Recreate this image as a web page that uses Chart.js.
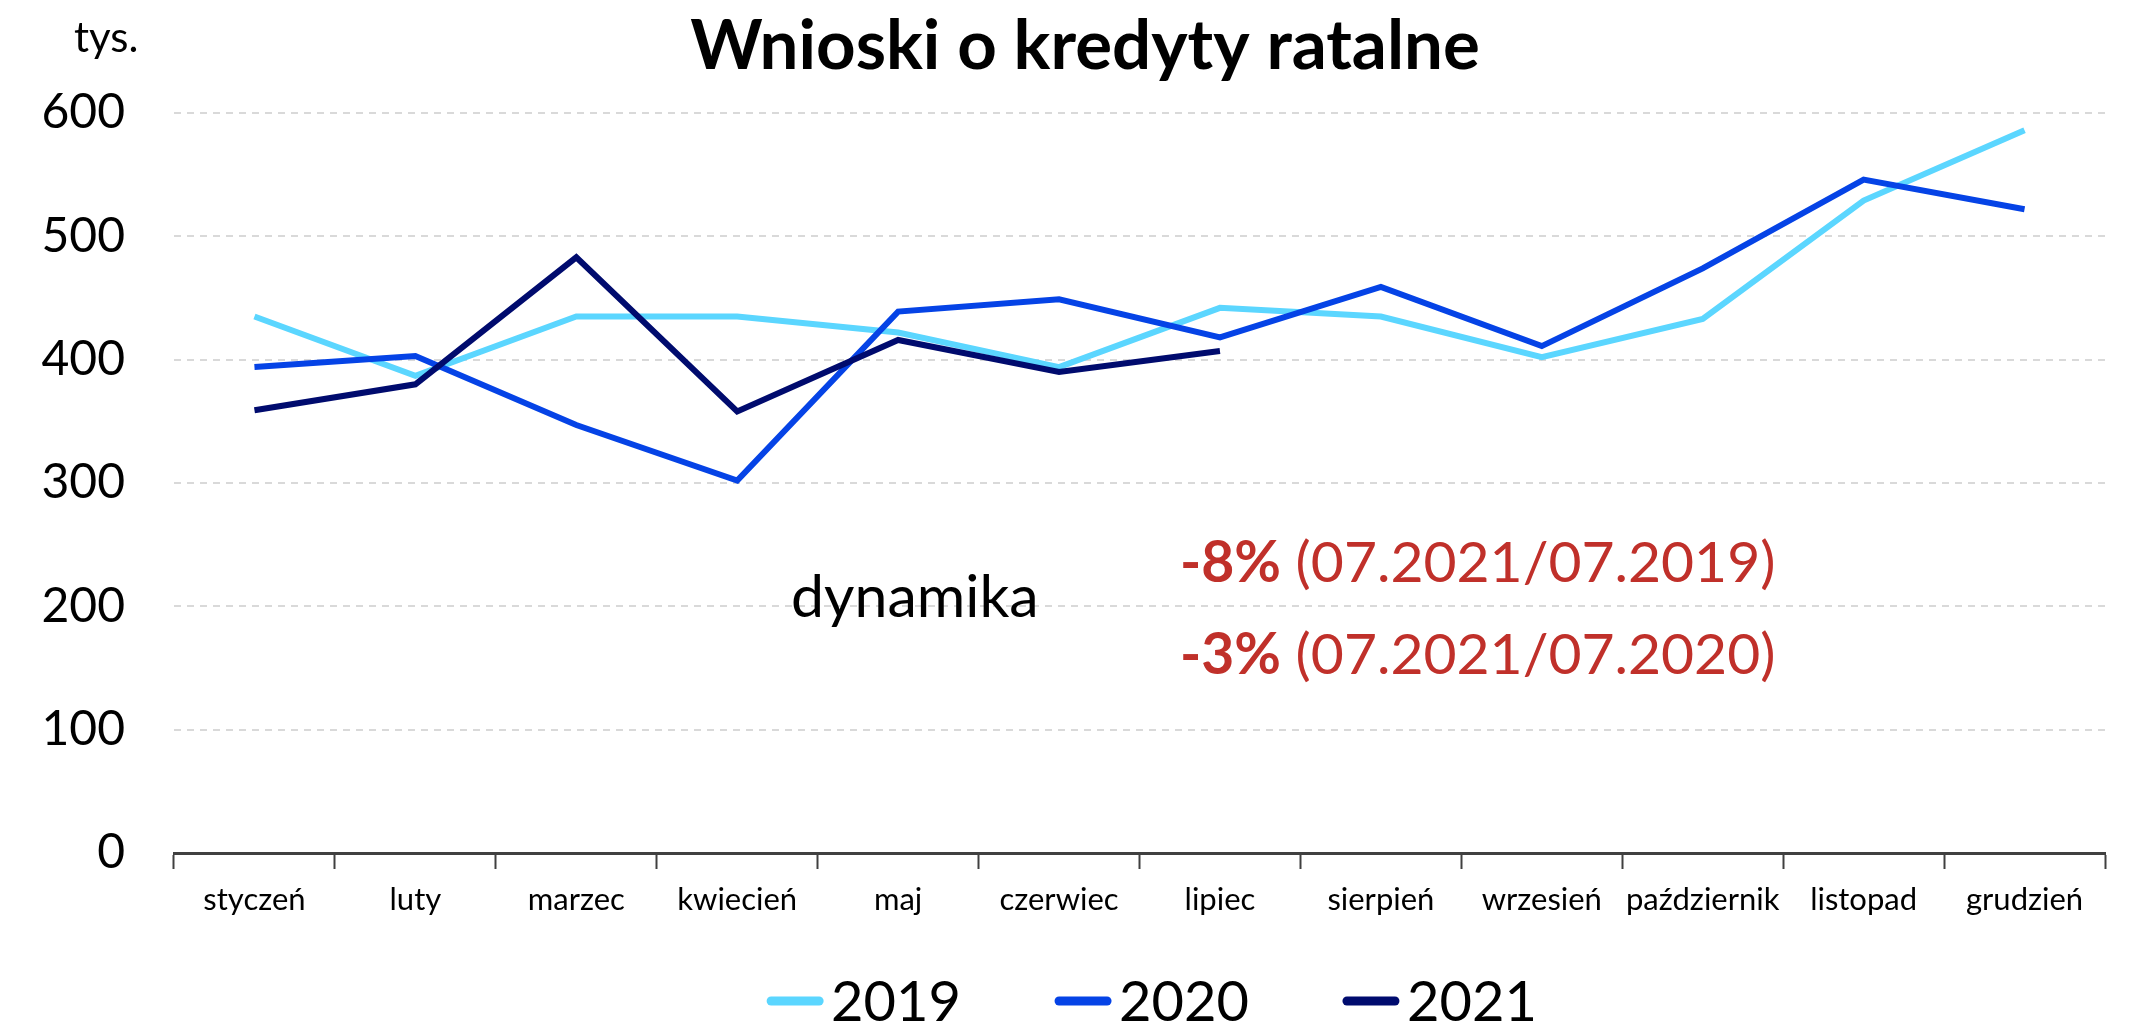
<!DOCTYPE html>
<html lang="pl">
<head>
<meta charset="utf-8">
<title>Wnioski o kredyty ratalne</title>
<script src="https://cdn.jsdelivr.net/npm/chart.js@4.4.1/dist/chart.umd.min.js"></script>
<style>
    html, body { margin: 0; padding: 0; background: #fff; }
    #wrap { width: 2130px; height: 1034px; }
</style>
</head>
<body>
<div id="wrap"><canvas id="kredytyChart" width="2130" height="1034"></canvas></div>
<script>
const months = ['styczeń', 'luty', 'marzec', 'kwiecień', 'maj', 'czerwiec', 'lipiec',
    'sierpień', 'wrzesień', 'październik', 'listopad', 'grudzień'];
const years = ['2019', '2020', '2021'];
const values2019 = [435, 387, 435, 435, 422, 394, 442, 435, 402, 433, 529, 586];
const values2020 = [394, 403, 347, 302, 439, 449, 418, 459, 411, 474, 546, 522];
const values2021 = [359, 380, 483, 358, 416, 390, 407];
const yTicks = [0, 100, 200, 300, 400, 500, 600];
const colors = ['#5BD6FF', '#0543E6', '#000B6E'];

const FONT = 'Lato, Carlito, Calibri, sans-serif';

// napisy, legenda i tytuł rysowane recznie
const extras = {
    id: 'extras',
    afterDraw(chart) {
        const ctx = chart.ctx;
        ctx.save();
        ctx.fillStyle = '#000';
        ctx.textBaseline = 'middle';

        ctx.font = 'bold 69px ' + FONT;
        ctx.textAlign = 'center';
        ctx.fillText('Wnioski o kredyty ratalne', 1085, 47);

        ctx.font = '42px ' + FONT;
        ctx.textAlign = 'left';
        ctx.fillText('tys.', 74, 38);

        ctx.font = '59px ' + FONT;
        ctx.fillText('dynamika', 791, 598);

        // dynamika r/r
        const rows = [['-8%', ' (07.2021/07.2019)', 564], ['-3%', ' (07.2021/07.2020)', 656]];
        rows.forEach(function (r) {
            ctx.fillStyle = '#C0302A';
            ctx.font = 'bold 57px ' + FONT;
            ctx.fillText(r[0], 1180, r[2]);
            const w = ctx.measureText(r[0]).width;
            ctx.font = '57px ' + FONT;
            ctx.fillText(r[1], 1180 + w, r[2]);
        });

        // legenda
        ctx.font = '56px ' + FONT;
        const lineLen = 56, gap = 8, itemGap = 94;
        let total = 0;
        years.forEach(function (y, i) {
            total += lineLen + gap + ctx.measureText(y).width;
            if (i < years.length - 1) total += itemGap;
        });
        let x = 1152 - total / 2;
        const ly = 1001;
        years.forEach(function (y, i) {
            ctx.strokeStyle = colors[i];
            ctx.lineWidth = 9;
            ctx.lineCap = 'round';
            ctx.beginPath();
            ctx.moveTo(x + 4, ly);
            ctx.lineTo(x + lineLen - 4, ly);
            ctx.stroke();
            x += lineLen + gap;
            ctx.fillStyle = '#000';
            ctx.fillText(y, x, ly + 2);
            x += ctx.measureText(y).width + itemGap;
        });
        ctx.restore();
    }
};

const ctx = document.getElementById('kredytyChart').getContext('2d');
const series = [values2019, values2020, values2021];

new Chart(ctx, {
    type: 'line',
    data: {
        labels: months,
        datasets: series.map(function (vals, i) {
            return {
                label: years[i],
                data: vals,
                borderColor: colors[i],
                backgroundColor: colors[i],
                borderWidth: 6,
                pointRadius: 0,
                tension: 0,
                fill: false,
                order: series.length - i
            };
        })
    },
    options: {
        responsive: false,
        animation: false,
        devicePixelRatio: 1,
        layout: {
            padding: { top: 113, right: 25, bottom: 101, left: 0 }
        },
        plugins: {
            legend: { display: false },
            title: { display: false },
            tooltip: { enabled: false }
        },
        scales: {
            x: {
                offset: true,
                grid: {
                    display: true,
                    offset: true,
                    drawOnChartArea: false,
                    drawTicks: true,
                    tickLength: 16,
                    tickWidth: 2,
                    tickColor: '#404040'
                },
                border: { display: true, color: '#404040', width: 3 },
                ticks: {
                    color: '#000',
                    font: { family: FONT, size: 31 },
                    padding: 12,
                    maxRotation: 0,
                    autoSkip: false
                },
                afterFit: function (scale) { scale.height = 80; }
            },
            y: {
                min: 0,
                max: 600,
                afterBuildTicks: function (scale) {
                    scale.ticks = yTicks.map(function (v) { return { value: v }; });
                },
                grid: {
                    color: function (c) { return c.tick && c.tick.value === 0 ? 'rgba(0,0,0,0)' : '#D9D9D9'; },
                    lineWidth: 2,
                    drawTicks: false
                },
                border: { display: false, dash: [7, 6] },
                ticks: {
                    color: '#000',
                    font: { family: FONT, size: 48 },
                    padding: 49
                },
                afterFit: function (scale) { scale.width = 174; }
            }
        }
    },
    plugins: [extras]
});
</script>
</body>
</html>
